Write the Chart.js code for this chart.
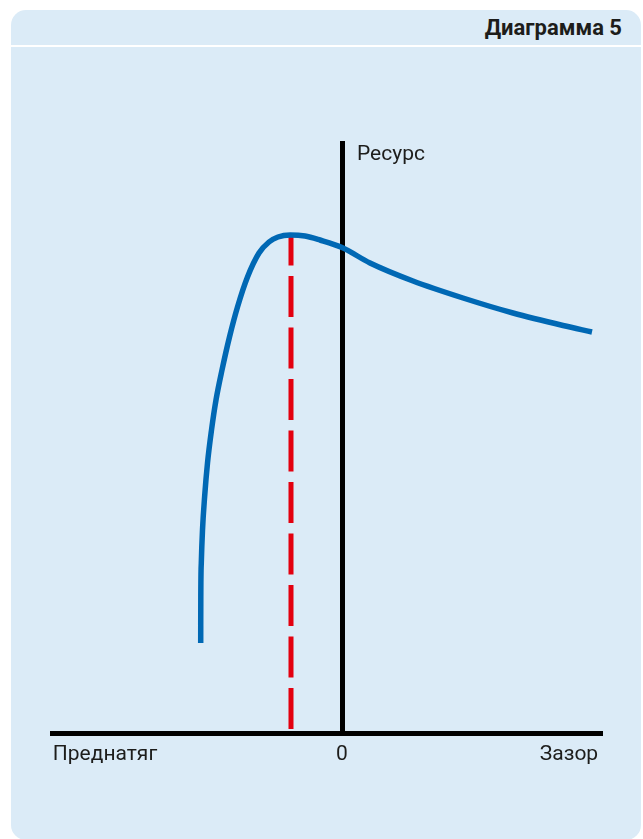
<!DOCTYPE html>
<html>
<head>
<meta charset="utf-8">
<script src="https://cdn.jsdelivr.net/npm/chart.js@4/dist/chart.umd.min.js"></script>
<style>
  html, body { margin:0; padding:0; background:#ffffff; }
  body { width:643px; height:839px; position:relative; overflow:hidden; }
  #panel { position:absolute; left:11px; top:10px; width:630px; height:830px; background:#dbebf7; border-radius:15px; }
  #sep { position:absolute; left:11px; top:45px; width:630px; height:2px; background:#ffffff; }
  #title { position:absolute; right:21px; top:15px; font:bold 22px Roboto, sans-serif; line-height:26px; color:#1d1d1b; }
  #c { position:absolute; left:0; top:0; }
</style>
</head>
<body>
<div id="panel"></div>
<div id="sep"></div>
<div id="title">Диаграмма 5</div>
<canvas id="c" width="643" height="839"></canvas>
<script>
// Curve (resource vs. preload/clearance), arbitrary units
const curveX = [-14.13, -14.12, -14.07, -13.95, -13.74, -13.45, -13.05, -12.6, -12.0, -11.25, -10.45, -9.45, -8.3, -7.3, -6.4, -5.2, -3.7, -2.2, 0, 2.8, 7.1, 12.1, 17.1, 22.1, 25.0];
const curveY = [9.0, 13.6, 17.0, 20.3, 23.6, 27.0, 30.3, 33.3, 36.3, 39.6, 42.6, 45.6, 48.0, 49.1, 49.6, 49.8, 49.7, 49.3, 48.55, 47.0, 45.2, 43.5, 42.0, 40.75, 40.1];
// Optimum marker (red dashed line)
const markerX = [-5.1, -5.1];
const markerY = [49.8, 0];
// Axis tick labels
const xTickValues = [-23.7, 0, 22.7];
const xTickLabels = ['Преднатяг', '0', 'Зазор'];
const yAxisLabel = 'Ресурс';
const yAxisLabelAt = 57.8;

const curveData = curveX.map((x, i) => ({x, y: curveY[i]}));
const markerData = markerX.map((x, i) => ({x, y: markerY[i]}));

const yLabelPlugin = {
  id: 'yLabel',
  afterDraw(chart) {
    const ctx = chart.ctx;
    const xs = chart.scales.x, ys = chart.scales.y;
    ctx.save();
    ctx.font = '21px Roboto, sans-serif';
    ctx.fillStyle = '#1d1d1b';
    ctx.textAlign = 'left';
    ctx.textBaseline = 'middle';
    ctx.fillText(yAxisLabel, xs.getPixelForValue(0) + 15, ys.getPixelForValue(yAxisLabelAt));
    ctx.restore();
  }
};

new Chart(document.getElementById('c'), {
  type: 'scatter',
  data: {
    datasets: [
      {
        data: curveData, showLine: true, borderColor: '#0068b4', borderWidth: 5.5,
        pointRadius: 0, cubicInterpolationMode: 'monotone', fill: false, borderCapStyle: 'butt'
      },
      {
        data: markerData, showLine: true, borderColor: '#e3000f', borderWidth: 5,
        borderDash: [41, 10.5], borderDashOffset: 10.5, pointRadius: 0, fill: false,
        borderCapStyle: 'butt'
      }
    ]
  },
  options: {
    responsive: false,
    devicePixelRatio: 1,
    animation: false,
    layout: { padding: { left: 52, right: 41, top: 143, bottom: 106 } },
    plugins: { legend: { display: false }, tooltip: { enabled: false } },
    scales: {
      x: {
        type: 'linear', min: -29, max: 26, position: { y: 0 }, z: 1,
        grid: { display: false, drawTicks: false },
        border: { display: true, color: '#000000', width: 5 },
        afterBuildTicks: (scale) => { scale.ticks = xTickValues.map(v => ({ value: v })); },
        ticks: {
          autoSkip: false, maxRotation: 0, minRotation: 0, padding: 9,
          color: '#1d1d1b', font: { family: 'Roboto', size: 21 },
          callback: (v, i) => xTickLabels[i]
        }
      },
      y: {
        type: 'linear', min: 0, max: 59, position: { x: 0 }, z: 1,
        grid: { display: false, drawTicks: false },
        border: { display: true, color: '#000000', width: 5 },
        ticks: { display: false }
      }
    }
  },
  plugins: [yLabelPlugin]
});
</script>
</body>
</html>
